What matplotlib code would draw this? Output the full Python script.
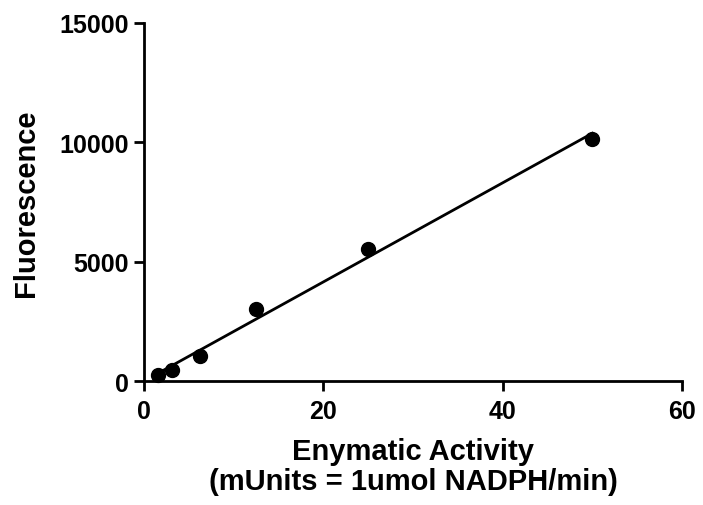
import numpy as np
import matplotlib
matplotlib.use("Agg")
import matplotlib.pyplot as plt

activity = [1.5625, 3.125, 6.25, 12.5, 25, 50]
fluorescence = [250, 460, 1050, 3000, 5520, 10150]
x_ticks = [0, 20, 40, 60]
y_ticks = [0, 5000, 10000, 15000]

plt.rcParams['font.family'] = ['Liberation Sans', 'DejaVu Sans']
plt.rcParams['font.weight'] = 'bold'

fig = plt.figure(figsize=(7.03, 5.06), dpi=100)
ax = fig.add_axes([0.205, 0.245, 0.765, 0.708])

slope, intercept = np.polyfit(activity, fluorescence, 1)
xs = np.array([min(activity), max(activity)])
ax.plot(xs, slope * xs + intercept, color='black', lw=2.0, zorder=2)
ax.plot(activity, fluorescence, 'o', color='black', ms=10, zorder=3, clip_on=False)

ax.set_xlim(0, 60)
ax.set_ylim(0, 15000)
ax.set_xticks(x_ticks)
ax.set_yticks(y_ticks)
for s in ['top', 'right']:
    ax.spines[s].set_visible(False)
for s in ['left', 'bottom']:
    ax.spines[s].set_linewidth(2.0)
ax.tick_params(width=2.0, length=7, labelsize=18)
ax.tick_params(axis='x', pad=6)
ax.tick_params(axis='y', pad=4)
for lab in ax.get_xticklabels() + ax.get_yticklabels():
    lab.set_fontweight('bold')

ax.set_ylabel('Fluorescence', fontsize=21, fontweight='bold', labelpad=14)
ax.set_xlabel('Enymatic Activity\n(mUnits = 1umol NADPH/min)', fontsize=21,
              fontweight='bold', labelpad=10, linespacing=1.1)

fig.savefig('out.png', dpi=100, facecolor='white')
